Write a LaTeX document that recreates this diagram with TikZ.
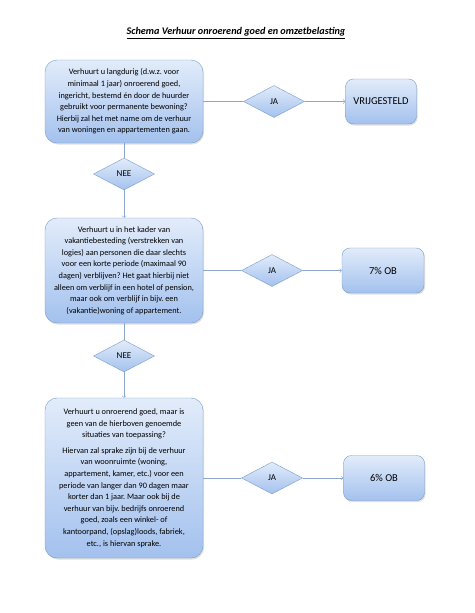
\documentclass[tikz,border=0pt]{standalone}
\usepackage{fontspec}
\setmainfont{Carlito}
\usetikzlibrary{shapes.geometric,shadows}

\definecolor{boxtop}{HTML}{E2ECFA}
\definecolor{boxbottom}{HTML}{A3C1EE}
\definecolor{boxline}{HTML}{7A9CCB}
\definecolor{flowline}{HTML}{8DA7CC}

\tikzset{
  question/.style={draw=boxline, rounded corners=12pt, top color=boxtop, bottom color=boxbottom,
    minimum width=158pt, align=center, font=\fontsize{8.3}{11.6}\selectfont, inner sep=4pt,
    drop shadow={opacity=0.25, shadow xshift=1pt, shadow yshift=-1.5pt}},
  outcome/.style={draw=boxline, rounded corners=8pt, top color=boxtop, bottom color=boxbottom,
    minimum height=45pt, align=center, font=\fontsize{10.5}{12}\selectfont,
    drop shadow={opacity=0.25, shadow xshift=1pt, shadow yshift=-1.5pt}},
  answer/.style={diamond, draw=boxline, top color=boxtop, bottom color=boxbottom,
    minimum width=61pt, minimum height=32pt, inner sep=0pt, aspect=2,
    font=\fontsize{9}{10}\selectfont},
  flow/.style={draw=flowline, line width=0.6pt}
}

\begin{document}
\frenchspacing
\begin{tikzpicture}[x=1pt, y=-1pt, node distance=150pt, auto]
  \useasboundingbox[fill=white] (0,0) rectangle (474,613);

  \node (title) at (236,33) {\fontsize{10.2}{12}\selectfont\bfseries\itshape\underline{Schema Verhuur onroerend goed en omzetbelasting}};

  % eerste vraag
  \node[question, minimum height=83pt] (Q1) at (124,101.5) {Verhuurt u langdurig (d.w.z. voor\\ minimaal 1 jaar) onroerend goed,\\ ingericht, bestemd én door de huurder\\ gebruikt voor permanente bewoning?\\ Hierbij zal het met name om de verhuur\\ van woningen en appartementen gaan.};
  \node[answer] (JA1) [right of=Q1] {JA};
  \node[outcome, minimum width=71pt] (VRIJ) [right of=JA1, node distance=107pt] {VRIJGESTELD};
  \node[answer] (NEE1) [below of=Q1, node distance=72.5pt] {NEE};

  % tweede vraag
  \node[question, minimum height=105pt] (Q2) [below of=NEE1, node distance=96.5pt] {Verhuurt u in het kader van\\ vakantiebesteding (verstrekken van\\ logies) aan personen die daar slechts\\ voor een korte periode (maximaal 90\\ dagen) verblijven? Het gaat hierbij niet\\ alleen om verblijf in een hotel of pension,\\ maar ook om verblijf in bijv. een\\ (vakantie)woning of appartement.};
  \node[answer] (JA2) [right of=Q2, xshift=-2pt] {JA};
  \node[outcome, minimum width=82pt] (ZEVEN) [right of=JA2, node distance=111pt] {7\% OB};
  \node[answer] (NEE2) [below of=Q2, node distance=85.5pt] {NEE};

  % derde vraag
  \node[question, minimum height=160pt] (Q3) [below of=NEE2, node distance=122pt] {Verhuurt u onroerend goed, maar is\\ geen van de hierboven genoemde\\ situaties van toepassing?\\[4pt]
    Hiervan zal sprake zijn bij de verhuur\\ van woonruimte (woning,\\ appartement, kamer, etc.) voor een\\ periode van langer dan 90 dagen maar\\ korter dan 1 jaar. Maar ook bij de\\ verhuur van bijv. bedrijfs onroerend\\ goed, zoals een winkel- of\\ kantoorpand, (opslag)loods, fabriek,\\ etc., is hiervan sprake.};
  \node[answer] (JA3) [right of=Q3, xshift=-2pt] {JA};
  \node[outcome, minimum width=81pt] (ZES) [right of=JA3, node distance=112pt] {6\% OB};

  \draw[flow] (Q1) to (JA1);
  \draw[flow, ->] (JA1) to (VRIJ);
  \draw[flow] (Q1) to (NEE1);
  \draw[flow, ->] (NEE1) to (Q2);
  \draw[flow] (Q2) to (JA2);
  \draw[flow, ->] (JA2) to (ZEVEN);
  \draw[flow] (Q2) to (NEE2);
  \draw[flow, ->] (NEE2) to (Q3);
  \draw[flow] (Q3) to (JA3);
  \draw[flow, ->] (JA3) to (ZES);
\end{tikzpicture}
\end{document}
